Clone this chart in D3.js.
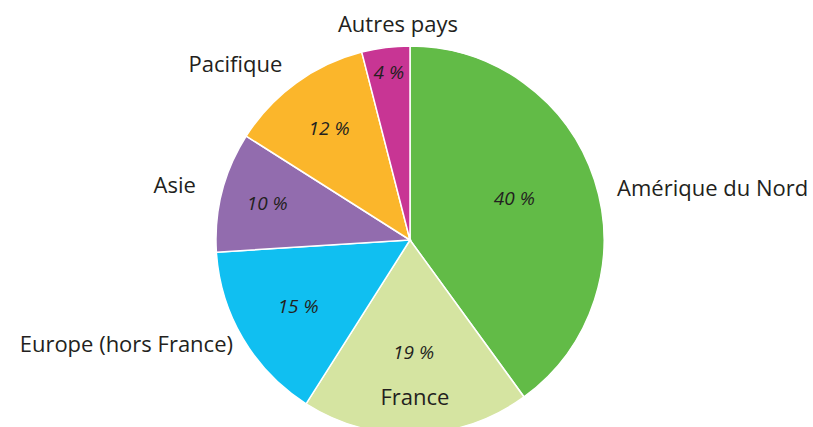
<!DOCTYPE html>
<html>
<head>
<meta charset="utf-8">
<script src="https://cdn.jsdelivr.net/npm/d3@7"></script>
<style>
	body { margin: 0; background: #fff; }
	svg { display: block; }
	.cat { font-family: "Open Sans", sans-serif; font-size: 22px; fill: #231f20; }
	.pct { font-family: "Open Sans", sans-serif; font-size: 19px; font-style: italic; fill: #231f20; }
</style>
</head>
<body>
<svg width="813" height="427"></svg>
<script>
'use strict';

const categories = ["Amérique du Nord", "France", "Europe (hors France)", "Asie", "Pacifique", "Autres pays"];
const values = [40, 19, 15, 10, 12, 4];
const colors = ["#62bb47", "#d5e4a1", "#10bff1", "#926cae", "#fbb62b", "#c83594"];

// label placement: radius as a fraction of the pie radius, angle shift in degrees
const pctRadius = [0.58, 0.58, 0.67, 0.76, 0.71, 0.87];
const pctShift = [-4, 0, 0, 0, 0, 0];
const catRadius = [1.1, 0.81, 1.06, 1.14, 1.12, 1.115];
const catShift = [4, 0, 0, 0, 0, 4];

const svg = d3.select("svg");
const cx = 410, cy = 240, r = 194;

const data = categories.map((c, i) => ({ name: c, value: values[i], color: colors[i], i: i }));

const pie = d3.pie()
	.value(d => d.value)
	.sort(null);

const arcs = pie(data);
const arc = d3.arc().innerRadius(0).outerRadius(r);

const g = svg.append("g")
	.attr("transform", `translate(${cx},${cy})`);

g.selectAll("path")
	.data(arcs)
	.enter().append("path")
	.attr("d", arc)
	.attr("fill", d => d.data.color)
	.attr("stroke", "#fff")
	.attr("stroke-width", 1.5);

function at(d, k, shift) {
	const a = (d.startAngle + d.endAngle) / 2 + shift * Math.PI / 180;
	return [Math.sin(a) * r * k, -Math.cos(a) * r * k];
}

g.selectAll("text.pct")
	.data(arcs)
	.enter().append("text")
	.attr("class", "pct")
	.attr("text-anchor", "middle")
	.attr("dy", "0.35em")
	.attr("x", d => at(d, pctRadius[d.data.i], pctShift[d.data.i])[0])
	.attr("y", d => at(d, pctRadius[d.data.i], pctShift[d.data.i])[1])
	.text(d => d.data.value + " %");

g.selectAll("text.cat")
	.data(arcs)
	.enter().append("text")
	.attr("class", "cat")
	.attr("dy", "0.35em")
	.attr("text-anchor", d => {
		const p = at(d, 1, 0);
		if (d.data.i === 1 || Math.abs(p[0]) < 40) return "middle";
		return p[0] > 0 ? "start" : "end";
	})
	.attr("x", d => at(d, catRadius[d.data.i], catShift[d.data.i])[0])
	.attr("y", d => at(d, catRadius[d.data.i], catShift[d.data.i])[1])
	.text(d => d.data.name);
</script>
</body>
</html>
